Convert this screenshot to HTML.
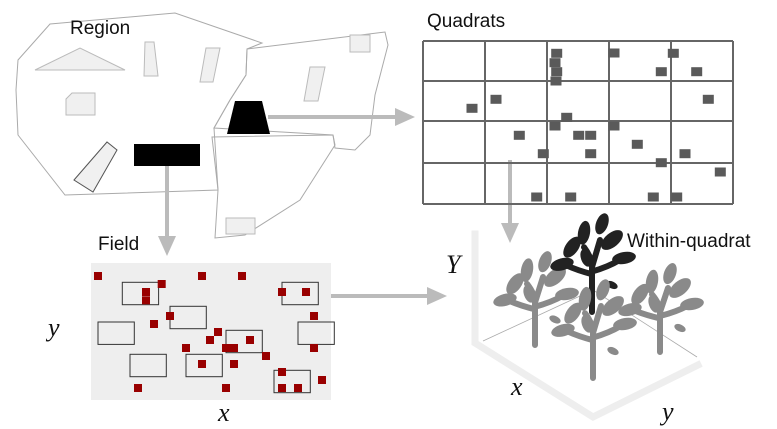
<!DOCTYPE html>
<html><head><meta charset="utf-8"><style>
html,body{margin:0;padding:0;background:#fff;width:777px;height:429px;overflow:hidden}
svg{display:block}
.lbl{font-family:"Liberation Sans",sans-serif;font-size:19px;fill:#111}
.math{font-family:"Liberation Serif",serif;font-style:italic;font-size:26px;fill:#111}
</style></head><body>
<svg id="s" width="777" height="429" viewBox="0 0 777 429">
<g fill="none" stroke="#aaa" stroke-width="1">
<polygon points="50,24 175,13 262,43 247,49 246,75 230,100 214,128 218,190 65,195 18,135 16,90 18,60"/>
<polygon points="247,49 385,32 388,45 375,95 370,135 355,150 335,148 333,135 214,128 230,100 246,75"/>
<polygon points="212,137 333,135 335,145 300,200 245,235 215,238 218,190"/>
</g>
<g fill="#f0f0f0" stroke="#bbb">
<polygon points="35,70 80,48 125,70"/>
<polygon points="145,42 154,42 158,76 144,76"/>
<polygon points="206,48 220,48 213,82 200,82"/>
<polygon points="72,93 95,93 95,115 66,115 66,99"/>
<polygon points="74,180 107,142 117,150 93,192" stroke="#555"/>
<rect x="350" y="35" width="20" height="17"/>
<polygon points="310,67 325,67 318,101 304,101"/>
<rect x="226" y="218" width="29" height="16"/>
</g>
<rect x="134" y="144" width="66" height="22" fill="#000"/>
<polygon points="235,101 262,101 270,134 227,134" fill="#000"/>
<text class="lbl" x="70" y="34">Region</text>
<text class="lbl" x="427" y="27">Quadrats</text>
<text class="lbl" x="98" y="250">Field</text>
<text class="lbl" x="627" y="247">Within-quadrat</text>
<g id="arrows" fill="#bbb" stroke="#bbb" stroke-width="4">
<line x1="268" y1="117" x2="397" y2="117"/><polygon points="395,108 415,117 395,126" stroke="none"/>
<line x1="167" y1="166" x2="167" y2="238"/><polygon points="158,236 167,256 176,236" stroke="none"/>
<line x1="510" y1="160" x2="510" y2="225"/><polygon points="501,223 510,243 519,223" stroke="none"/>
<line x1="302" y1="296" x2="428" y2="296"/><polygon points="427,287 447,296 427,305" stroke="none"/>
</g>
<rect x="91" y="263" width="240" height="137" fill="#eee"/>
<g id="grid"></g>
<g id="field"></g>
<text class="math" x="48" y="336">y</text>
<text class="math" x="218" y="421">x</text>
<g stroke="#eee" stroke-width="7" fill="none" stroke-linecap="square">
<polyline points="475,234 475,343 593,417 698,365"/>
</g>
<g stroke="#aaa" stroke-width="0.8" fill="none">
<polyline points="483,341 593,290 697,357"/>
</g>
<g id="plants"></g>
<text class="math" x="446" y="273">Y</text>
<text class="math" x="511" y="395">x</text>
<text class="math" x="662" y="420">y</text>
</svg>
<script>
const NS="http://www.w3.org/2000/svg";
const colsX=[423,485,547,609,671,733];
const rowsY=[41,81,121,163,204];
const quadX=[556.7,555,556.7,556,614,673.3,661.3,696.7,708.3,496,472,566.7,555,614,519.3,578.7,590.7,637.3,543.3,590.7,685,661.3,720.3,536.7,570.7,653.3,676.7];
const quadY=[53.3,62.7,71.7,81,53,53.3,71.7,71.7,99.3,99.3,108.3,117.3,126,126,135.3,135.3,135.3,144.3,153.7,153.7,153.7,162.7,172,197,197,197,197];
const boxX=[122.3,170,98,130,186,226,282,298,274];
const boxY=[282.3,306.3,322,354.3,354.3,330.3,282.3,322,370.3];
const ptX=[98,161.7,146,146,202,242,282,306,170,154,314,218,210,250,186,226,234,314,266,202,234,282,322,138,226,282,298];
const ptY=[276,284,292,300.3,276,276,292,292,316,324,316,332,340,340,348,348,348,348,356,364,364,372,380,388,388,388,388];
const plantX=[535,593,660,592];
const plantY=[345,378,352,312];
const plantH=[85,90,80,90];
const grid=document.getElementById('grid');
function mk(p,t,a){const e=document.createElementNS(NS,t);for(const k in a)e.setAttribute(k,a[k]);p.appendChild(e);return e;}
const gx0=colsX[0],gx1=colsX[colsX.length-1],gy0=rowsY[0],gy1=rowsY[rowsY.length-1];
colsX.forEach(x=>{const l=mk(grid,'line',{x1:x,y1:gy0,x2:x,y2:gy1,stroke:'#666','stroke-width':2});

});
rowsY.forEach(y=>{const l=mk(grid,'line',{x1:gx0,y1:y,x2:gx1,y2:y,stroke:'#666','stroke-width':2});

});
quadX.forEach((x,i)=>{const r=mk(grid,'rect',{x:x-5.5,y:quadY[i]-4.5,width:11,height:9,fill:'#5a5a5a'});

});
const field=document.getElementById('field');
boxX.forEach((x,i)=>{const r=mk(field,'rect',{x:x,y:boxY[i],width:36.3,height:22.4,fill:'none',stroke:'#333','stroke-width':1});

});
ptX.forEach((x,i)=>{const r=mk(field,'rect',{x:x-4,y:ptY[i]-4,width:8,height:8,fill:'#990000'});

});
const plants=document.getElementById('plants');
const order=[0,2,3,1];
order.forEach(i=>{
 const x=plantX[i],y=plantY[i],h=plantH[i],c=i===3?'#222':'#8a8a8a';
 const g=mk(plants,'g',{fill:c,stroke:c});
 
 
 mk(g,'path',{d:`M${x},${y} L${x},${y-h*0.5} Q${x},${y-h*0.6} ${x-8},${y-h*0.72} M${x},${y-h*0.5} Q${x+4},${y-h*0.65} ${x+8},${y-h*0.8} M${x},${y-h*0.42} Q${x-14},${y-h*0.46} ${x-26},${y-h*0.52} M${x},${y-h*0.45} Q${x+16},${y-h*0.5} ${x+28},${y-h*0.58}`,fill:'none','stroke-width':6,'stroke-linecap':'round'});
 const leaves=[[-30,0.53,-15,12,6],[-20,0.72,-55,12,6.5],[-8,0.88,-80,12,6],[10,0.98,-70,11,6],[20,0.8,-40,13,7],[32,0.6,-10,12,6],[-6,0.6,-110,9,5],[20,0.3,25,6,3.5]];
 leaves.forEach(L=>mk(g,'ellipse',{cx:x+L[0],cy:y-h*L[1],rx:L[3],ry:L[4],transform:`rotate(${L[2]} ${x+L[0]} ${y-h*L[1]})`,stroke:'none'}));
});
</script>
</body></html>
